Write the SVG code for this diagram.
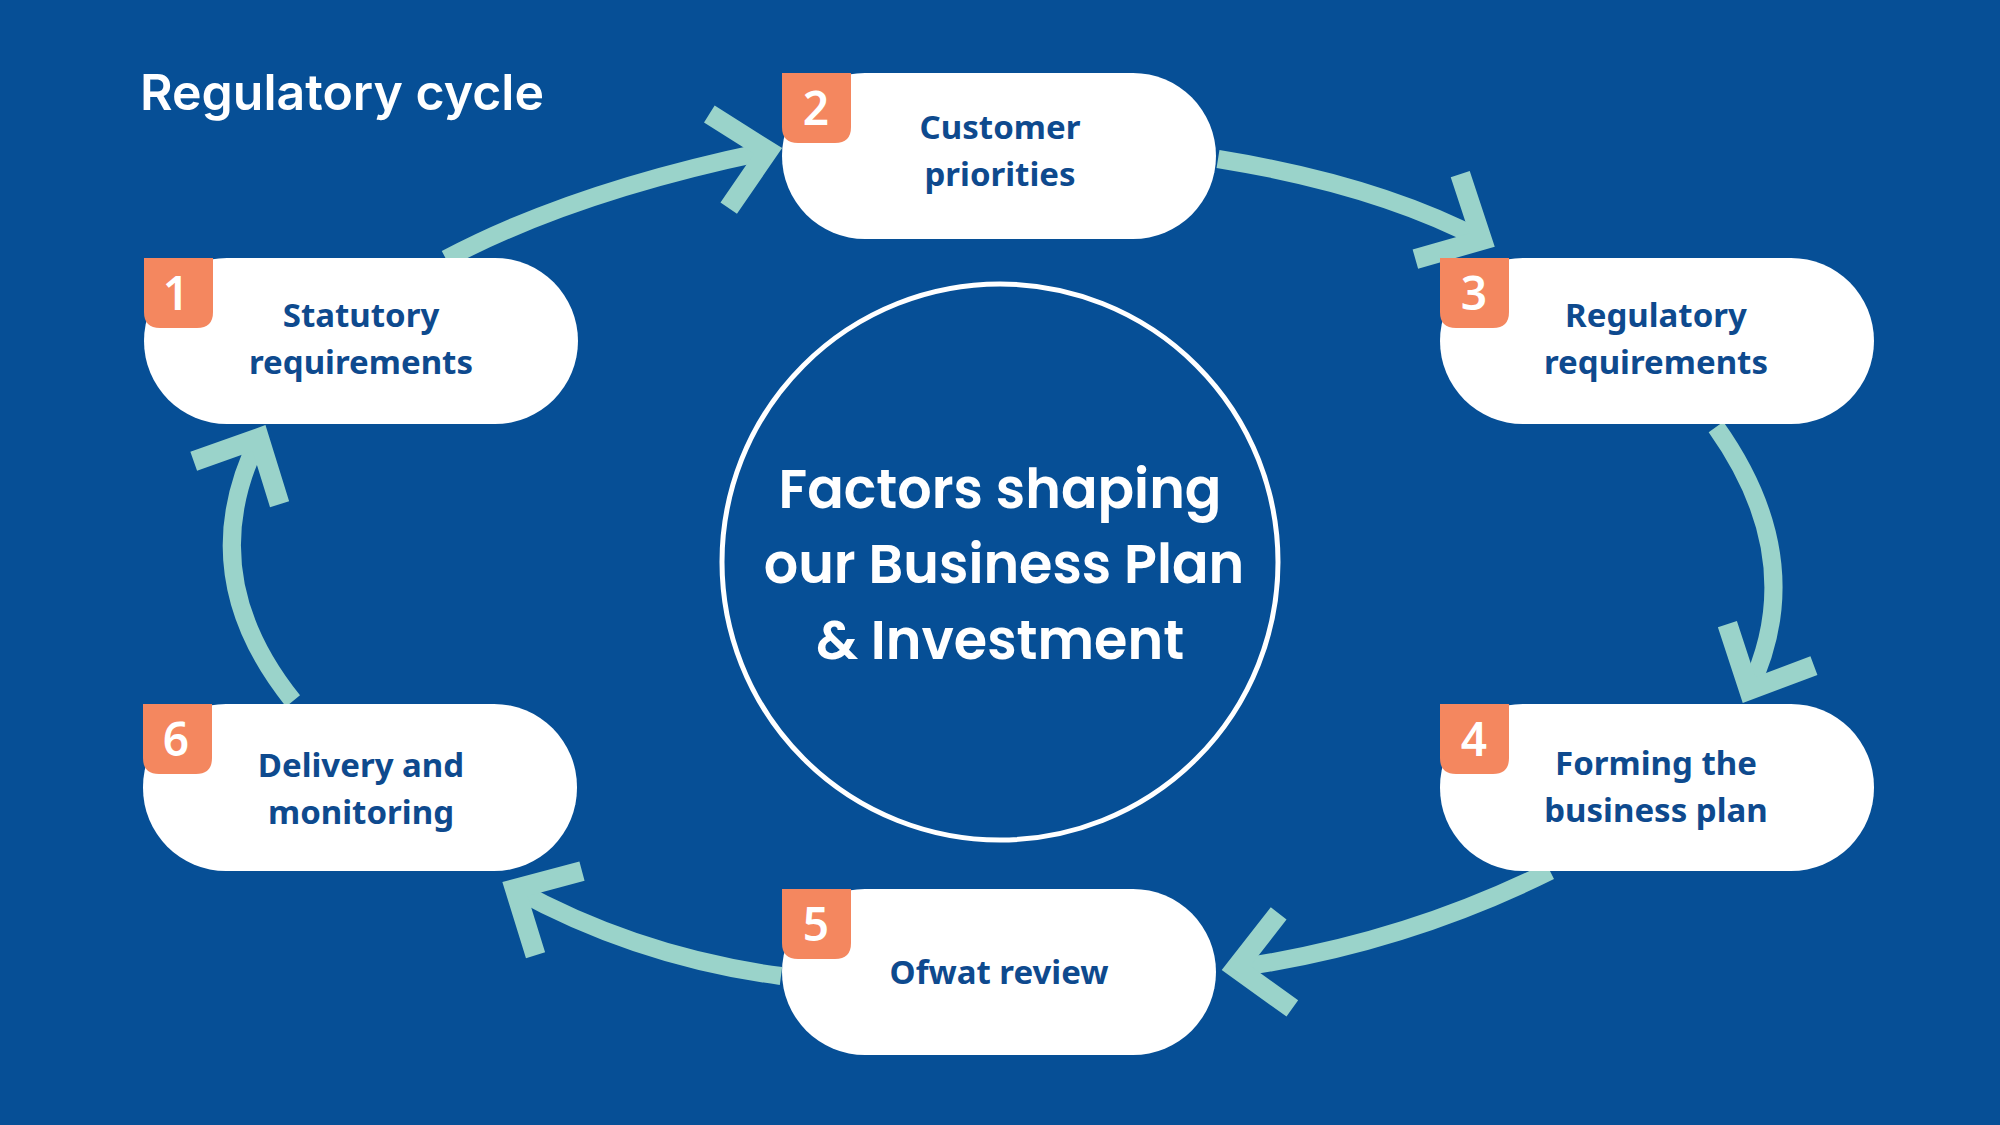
<svg xmlns="http://www.w3.org/2000/svg" width="2000" height="1125" viewBox="0 0 2000 1125">
<style>
.node{fill:#fff}
.lbl{font-family:"Noto Sans","Liberation Sans",sans-serif;font-weight:700;font-size:33px;fill:#0E4A8E;text-anchor:middle}
.badge{fill:#F4875F}
.num{font-family:"Noto Sans","Liberation Sans",sans-serif;font-weight:600;font-size:46px;fill:#fff;text-anchor:middle}
.arr{fill:none;stroke:#9AD3CA;stroke-width:18;marker-end:url(#chev)}
</style>
<defs>
<marker id="chev" markerUnits="userSpaceOnUse" viewBox="-70 -70 90 140" markerWidth="90" markerHeight="140" refX="0" refY="0" orient="auto">
<path d="M-50,-48 L0,0 L-50,48" fill="none" stroke="#9AD3CA" stroke-width="20"/>
</marker>
</defs>
<rect width="2000" height="1125" fill="#064F96"/>
<text x="140" y="110" font-family="Inter,'Noto Sans',sans-serif" font-weight="600" font-size="50" fill="#fff">Regulatory cycle</text>
<g id="connectors">
<path class="arr" d="M446,259 Q574,191 768,151"/>
<path class="arr" d="M1218,159 Q1378,185 1482,240"/>
<path class="arr" d="M1716,427 Q1811,561 1749,690"/>
<path class="arr" d="M1550,871 Q1403,944 1236,968"/>
<path class="arr" d="M781,976 Q638,957 515,889"/>
<path class="arr" d="M293,701 Q191,574 259,438"/>
</g>
<g id="center">
<circle cx="1000" cy="562" r="278" fill="none" stroke="#fff" stroke-width="5"/>
<g font-family="Poppins,Inter,'Noto Sans',sans-serif" font-weight="600" font-size="54" fill="#fff" text-anchor="middle">
<text x="1000" y="508">Factors shaping</text>
<text x="1004" y="583">our Business Plan</text>
<text x="1000" y="659">&amp; Investment</text>
</g>
</g>
<g id="n1"><rect class="node" x="144" y="258" width="434" height="166" rx="83"/><path class="badge" d="M144,258 H213 V312 Q213,328 197,328 H160 Q144,328 144,312 Z"/><text class="num" x="176" y="310">1</text><text class="lbl" x="361" y="327">Statutory</text><text class="lbl" x="361" y="374">requirements</text></g>
<g id="n2"><rect class="node" x="782" y="73" width="434" height="166" rx="83"/><path class="badge" d="M782,73 H851 V127 Q851,143 835,143 H798 Q782,143 782,127 Z"/><text class="num" x="816" y="125">2</text><text class="lbl" x="1000" y="139">Customer</text><text class="lbl" x="1000" y="186">priorities</text></g>
<g id="n3"><rect class="node" x="1440" y="258" width="434" height="166" rx="83"/><path class="badge" d="M1440,258 H1509 V312 Q1509,328 1493,328 H1456 Q1440,328 1440,312 Z"/><text class="num" x="1474" y="310">3</text><text class="lbl" x="1656" y="327">Regulatory</text><text class="lbl" x="1656" y="374">requirements</text></g>
<g id="n4"><rect class="node" x="1440" y="704" width="434" height="167" rx="83"/><path class="badge" d="M1440,704 H1509 V758 Q1509,774 1493,774 H1456 Q1440,774 1440,758 Z"/><text class="num" x="1474" y="756">4</text><text class="lbl" x="1656" y="775">Forming the</text><text class="lbl" x="1656" y="822">business plan</text></g>
<g id="n5"><rect class="node" x="782" y="889" width="434" height="166" rx="83"/><path class="badge" d="M782,889 H851 V943 Q851,959 835,959 H798 Q782,959 782,943 Z"/><text class="num" x="816" y="941">5</text><text class="lbl" x="999" y="984">Ofwat review</text></g>
<g id="n6"><rect class="node" x="143" y="704" width="434" height="167" rx="83"/><path class="badge" d="M143,704 H212 V758 Q212,774 196,774 H159 Q143,774 143,758 Z"/><text class="num" x="176" y="756">6</text><text class="lbl" x="361" y="777">Delivery and</text><text class="lbl" x="361" y="824">monitoring</text></g>
</svg>
